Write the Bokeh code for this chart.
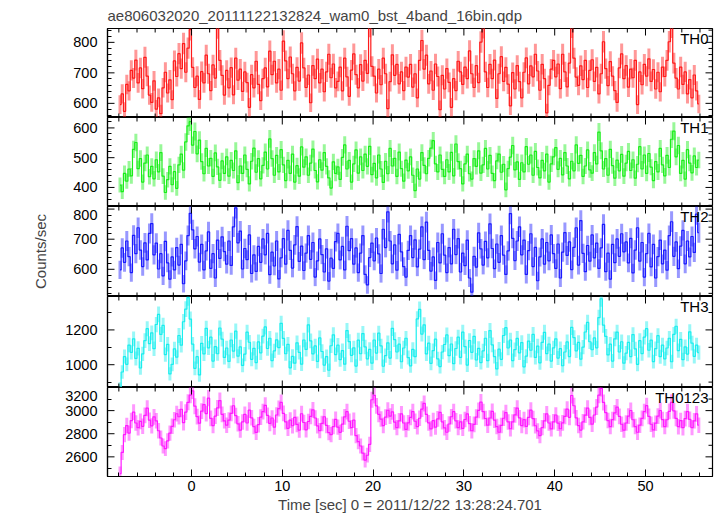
import numpy as np
from bokeh.plotting import figure
from bokeh.models import Range1d, FixedTicker, Label, ColumnDataSource
from bokeh.layouts import column
from bokeh.embed import file_html
from bokeh.resources import INLINE

title_text = "ae806032020_20111122132824_wam0_bst_4band_16bin.qdp"
x_label = "Time [sec] 0 = 2011/12/22 13:28:24.701"
y_label = "Counts/sec"
band_names = ["TH0", "TH1", "TH2", "TH3", "TH0123"]
t_first = -7.875
bin_width = 0.25

th0 = [
    596, 631, 574, 662, 641, 708, 683, 742, 667, 716, 648, 751, 689, 627, 603, 674,
    581, 618, 566, 651, 702, 634, 677, 612, 739, 688, 763, 714, 796, 702, 781, 842,
    718, 652, 689, 613, 704, 667, 758, 697, 642, 726, 683, 848, 741, 692, 627, 708,
    651, 717, 628, 748, 676, 712, 639, 703, 668, 587, 694, 651, 738, 662, 609, 681,
    716, 654, 771, 694, 738, 667, 712, 643, 804, 739, 681, 752, 697, 641, 718, 673,
    798, 716, 652, 693, 602, 724, 681, 745, 667, 712, 638, 703, 761, 684, 729, 651,
    672, 719, 641, 748, 687, 623, 709, 762, 694, 651, 727, 673, 741, 698, 853, 721,
    689, 634, 712, 661, 748, 697, 583, 671, 759, 692, 728, 664, 703, 642, 719, 686,
    728, 653, 697, 618, 741, 806, 712, 758, 664, 706, 643, 729, 688, 579, 692, 647,
    714, 669, 587, 681, 642, 738, 703, 662, 719, 681, 772, 697, 652, 724, 668, 801,
    849, 703, 652, 728, 681, 742, 616, 697, 753, 672, 718, 663, 592, 701, 647, 724,
    671, 618, 702, 749, 664, 723, 687, 761, 706, 643, 728, 681, 569, 659, 712, 741,
    687, 729, 648, 761, 703, 654, 732, 851, 748, 686, 659, 723, 678, 741, 652, 708,
    743, 672, 718, 631, 697, 802, 714, 658, 737, 689, 642, 603, 716, 762, 681, 724,
    653, 712, 684, 741, 596, 703, 661, 728, 689, 746, 672, 711, 647, 702, 638, 719,
    688, 741, 802, 851, 732, 683, 647, 719, 662, 703, 631, 678, 618, 693, 641, 598,
]
th1 = [
    408, 386, 447, 421, 462, 439, 528, 551, 463, 497, 418, 482, 509, 436, 471, 429,
    493, 452, 517, 438, 383, 426, 471, 409, 453, 397, 476, 512, 458, 553, 607, 621,
    542, 588, 513, 559, 487, 446, 531, 472, 498, 437, 516, 469, 424, 489, 447, 503,
    438, 491, 457, 523, 416, 472, 447, 509, 461, 412, 488, 532, 451, 497, 429, 474,
    519, 462, 563, 497, 441, 508, 452, 527, 476, 423, 491, 447, 512, 418, 473, 438,
    536, 468, 503, 441, 482, 529, 457, 419, 493, 458, 517, 471, 432, 398, 486, 447,
    469, 427, 501, 543, 462, 491, 418, 479, 526, 448, 503, 457, 512, 471, 538, 443,
    481, 432, 509, 462, 417, 488, 446, 531, 472, 498, 437, 519, 463, 421, 492, 456,
    503, 441, 389, 462, 428, 517, 474, 446, 498, 532, 557, 479, 452, 509, 461, 437,
    493, 452, 518, 439, 546, 487, 463, 412, 479, 512, 446, 428, 497, 471, 523, 448,
    476, 531, 462, 508, 447, 423, 489, 512, 451, 478, 392, 463, 502, 541, 459, 486,
    427, 483, 452, 537, 478, 509, 441, 521, 467, 432, 491, 456, 512, 418, 479, 503,
    534, 461, 498, 442, 517, 472, 429, 488, 456, 543, 481, 508, 437, 472, 526, 459,
    448, 517, 479, 586, 523, 462, 497, 441, 528, 473, 431, 492, 456, 511, 438, 482,
    521, 457, 493, 431, 478, 537, 462, 509, 447, 514, 468, 423, 487, 452, 531, 476,
    439, 508, 467, 562, 589, 503, 541, 447, 491, 428, 527, 482, 449, 506, 467, 492,
]
th2 = [
    598, 671, 623, 694, 642, 589, 713, 652, 738, 664, 609, 688, 631, 719, 752, 648,
    687, 601, 652, 578, 693, 621, 567, 641, 598, 672, 614, 683, 552, 628, 712, 786,
    731, 668, 709, 624, 683, 598, 661, 724, 603, 652, 571, 697, 636, 708, 659, 617,
    694, 613, 741, 804, 688, 727, 601, 669, 632, 714, 586, 648, 593, 676, 623, 701,
    648, 719, 582, 657, 611, 694, 568, 638, 702, 617, 729, 663, 604, 681, 742, 626,
    677, 596, 654, 712, 633, 689, 574, 628, 701, 649, 591, 668, 561, 637, 603, 692,
    719, 631, 676, 598, 743, 662, 702, 617, 671, 589, 654, 712, 583, 548, 639, 687,
    628, 704, 651, 586, 733, 672, 791, 694, 618, 681, 597, 716, 658, 609, 574, 663,
    712, 639, 698, 608, 667, 741, 632, 757, 663, 594, 641, 563, 689, 621, 718, 647,
    589, 672, 618, 733, 649, 702, 591, 654, 612, 697, 571, 524, 643, 607, 721, 668,
    614, 693, 638, 751, 669, 602, 684, 623, 712, 647, 583, 661, 785, 703, 629, 694,
    741, 648, 697, 583, 662, 718, 609, 673, 562, 641, 701, 617, 689, 628, 714, 652,
    603, 684, 571, 657, 722, 646, 691, 599, 673, 738, 614, 762, 653, 592, 679, 627,
    714, 638, 687, 603, 671, 749, 592, 654, 567, 683, 622, 701, 643, 718, 658, 691,
    621, 703, 588, 664, 738, 627, 689, 574, 652, 719, 608, 683, 571, 642, 697, 618,
    664, 597, 712, 758, 643, 691, 602, 677, 729, 618, 694, 641, 709, 656, 783, 722,
]
th3 = [
    862, 958, 1047, 1002, 1113, 1071, 1149, 1036, 1094, 981, 1062, 1138, 1207, 1121, 1183, 1092,
    1231, 1289, 1174, 1226, 1058, 1117, 947, 1002, 1091, 1043, 1168, 1112, 1247, 1319, 1386, 1262,
    1118, 979, 1046, 941, 1123, 1062, 1209, 1097, 1158, 1021, 1104, 1063, 1211, 1147, 1042, 1096,
    1019, 1142, 1078, 1193, 1049, 1102, 996, 1061, 1187, 1129, 1031, 1094, 1012, 1131, 1068, 1164,
    1217, 1093, 1152, 1024, 1079, 1143, 1098, 1238, 1151, 1063, 1117, 982, 1048, 1009, 1126, 1071,
    1003, 1142, 1088, 1229, 1137, 1062, 1108, 1019, 1154, 1076, 998, 1047, 968, 1109, 1172, 1058,
    1112, 1029, 1081, 1003, 1196, 1133, 1054, 1097, 992, 1141, 1063, 1179, 1102, 1034, 1088, 1009,
    1142, 1067, 1181, 1108, 991, 1052, 1126, 1038, 1209, 1144, 1073, 1118, 1017, 1096, 1152, 1041,
    993, 1088, 1046, 1263, 1318, 1176, 1229, 1062, 1124, 1008, 1081, 1147, 1034, 989, 1073, 1116,
    1171, 1052, 1119, 1006, 1093, 1158, 1042, 1187, 1104, 998, 1139, 1071, 1163, 1027, 1094, 1012,
    1079, 1152, 1023, 1196, 1114, 1047, 976, 1089, 1031, 1168, 1213, 1096, 1142, 1024, 1087, 1151,
    1068, 1127, 988, 1049, 1136, 1083, 1174, 1042, 1107, 1011, 1128, 1186, 1064, 1119, 1021, 1097,
    1149, 1038, 1092, 994, 1073, 1131, 1047, 1214, 1156, 1079, 1128, 1032, 1101, 1188, 1243, 1132,
    1086, 1154, 1097, 1271, 1379, 1227, 1163, 1056, 1118, 1021, 1149, 1187, 1073, 1132, 1009, 1066,
    1128, 1047, 1173, 1091, 1002, 1138, 1064, 1159, 1207, 1083, 1141, 1018, 1092, 1167, 1046, 1113,
    1034, 1096, 1152, 1017, 1174, 1221, 1081, 1146, 1029, 1103, 1061, 1189, 1124, 1048, 1113, 1069,
]
th0123 = [
    2455, 2638, 2792, 2871, 2806, 2914, 2987, 2893, 2852, 2907, 2864, 2958, 3021, 2917, 2868, 2946,
    2912, 2826, 2763, 2694, 2671, 2738, 2806, 2864, 2921, 2973, 2947, 3012, 2896, 2987, 3072, 3134,
    3171, 3038, 2948, 2891, 2996, 3052, 2974, 3108, 2933, 2871, 2952, 3023, 3087, 2968, 2912, 2874,
    2918, 2977, 3042, 2957, 2886, 2831, 2902, 2968, 2893, 3004, 2938, 2862, 2811, 2878, 2943, 2991,
    3046, 2958, 2889, 2936, 2857, 2962, 3018, 3071, 2976, 2903, 2847, 2918, 2869, 2941, 2881, 2832,
    2973, 2897, 2834, 2906, 2951, 3007, 2936, 2868, 2827, 2889, 2947, 2872, 2809, 2792, 2862, 2924,
    2857, 2812, 2883, 2946, 2991, 2908, 2852, 2917, 2784, 2731, 2694, 2633, 2572, 2614, 2708, 3094,
    3132, 3041, 2968, 2927, 2871, 2944, 3003, 2952, 2989, 2901, 2853, 2912, 2971, 2893, 2837, 2894,
    2941, 2992, 2908, 2861, 2934, 3013, 3062, 2967, 2894, 2842, 2913, 2857, 2928, 2984, 2903, 2851,
    2813, 2884, 2947, 2991, 2912, 2853, 2902, 2846, 2923, 2971, 2887, 2826, 2881, 2944, 3002, 3074,
    2991, 2932, 2874, 2936, 2993, 2917, 2862, 2813, 2872, 2934, 2983, 2902, 2843, 2902, 2963, 3021,
    2938, 2871, 2922, 2863, 2942, 3004, 2931, 2869, 2824, 2783, 2853, 2912, 2971, 2893, 2842, 2903,
    2962, 2891, 2843, 2894, 2951, 3013, 2942, 3131, 3042, 2938, 2871, 2832, 2903, 2961, 3022, 2941,
    2883, 2962, 3031, 3134, 3192, 3071, 2983, 2914, 2862, 2922, 2981, 3031, 2951, 2882, 2831, 2893,
    2952, 3001, 2921, 2862, 2813, 2874, 2933, 2992, 3043, 2951, 2882, 2833, 2891, 2952, 3001, 2922,
    2862, 2921, 2993, 3072, 2998, 2933, 2861, 2914, 2852, 2931, 2992, 2924, 2853, 2912, 2972, 2874,
]
series = [th0, th1, th2, th3, th0123]

# axis ranges and ticks for each panel
y_ranges = [(553.6, 845.4), (336.0, 635.0), (509.6, 808.6), (869.0, 1392.0), (2430.0, 3200.0)]
y_tick_labels = [[600, 700, 800], [400, 500, 600], [600, 700], [1000, 1200], [2600, 2800, 3000]]
y_edge_labels = [[], [], [800], [], [3200]]
y_major_step = [100, 100, 100, 200, 200]
y_minor_step = [20, 20, 20, 100, 100]
x_major_step = 10
x_minor_step = 2

# styling / layout configuration
colors = ["#ff1a1a", "#1aee1a", "#1a1aff", "#1aeeee", "#ff1aff"]
FONT = "Liberation Sans"
W = 717
LEFT = 107
RIGHT = 5
TOP = 27
BOTTOM = 40
PANEL_H = [90, 89, 90, 91, 89]
TICK_MAJ = 7
TICK_MIN = 4
EDGE_LABEL_PX = 8.0   # edge labels are moved this far inside the panel

x_range = Range1d(-9.25, 57.38)
t = t_first + bin_width * np.arange(len(th0))


def grid_ticks(start, end, step):
    k0 = int(np.ceil(start / step - 1e-9))
    k1 = int(np.floor(end / step + 1e-9))
    return [k * step for k in range(k0, k1 + 1)]


x_major = grid_ticks(x_range.start, x_range.end, x_major_step)
x_minor = [v for v in grid_ticks(x_range.start, x_range.end, x_minor_step) if v % x_major_step != 0]


def style_axis(ax):
    ax.axis_line_color = "black"
    ax.axis_line_width = 1.2
    ax.major_tick_in = TICK_MAJ
    ax.major_tick_out = 0
    ax.minor_tick_in = TICK_MIN
    ax.minor_tick_out = 0
    ax.major_tick_line_color = "black"
    ax.minor_tick_line_color = "black"
    ax.major_label_text_font = FONT
    ax.major_label_text_font_size = "14.5px"
    ax.major_label_text_color = "black"


def frame_ticks(p, xs, ys, angle, length):
    p.ray(x=xs, y=ys, length=length, angle=angle, angle_units="deg",
          length_units="screen", line_color="black", line_width=1)


figs = []
n = len(series)
for i, (vals, name, col) in enumerate(zip(series, band_names, colors)):
    first = i == 0
    last = i == n - 1
    ph = PANEL_H[i]
    h = ph + (TOP if first else 0) + (BOTTOM if last else 0)
    lo, hi = y_ranges[i]
    p = figure(width=W, height=h, x_range=x_range, y_range=Range1d(lo, hi),
               output_backend="svg", toolbar_location=None,
               min_border_left=LEFT, min_border_right=RIGHT,
               min_border_top=(TOP if first else 0), min_border_bottom=(BOTTOM if last else 0),
               title=(title_text if first else None))
    p.grid.visible = False
    p.outline_line_color = "black"
    p.outline_line_width = 1.2
    p.background_fill_color = "white"
    p.border_fill_color = "white"
    if first:
        p.title.text_font = FONT
        p.title.text_font_size = "15px"
        p.title.text_font_style = "normal"
        p.title.align = "left"
        p.title.offset = 0
        p.title.standoff = 9

    v = np.array(vals, dtype=float)
    err = 1.25 * np.sqrt(v)
    src = ColumnDataSource(dict(t=t, v=v, lo=v - err, hi=v + err))
    p.segment(x0="t", y0="lo", x1="t", y1="hi", source=src,
              line_color=col, line_alpha=0.45, line_width=3)
    p.step(x="t", y="v", source=src, mode="center", line_color=col, line_width=1.2)

    # x axis: labelled only on the bottom panel, frame ticks elsewhere
    if last:
        xa = p.xaxis[0]
        xa.ticker = FixedTicker(ticks=x_major, minor_ticks=x_minor)
        style_axis(xa)
        xa.major_label_standoff = 4
        xa.axis_label = x_label
        xa.axis_label_text_font = FONT
        xa.axis_label_text_font_size = "15px"
        xa.axis_label_text_font_style = "normal"
        xa.axis_label_standoff = 2
    else:
        p.xaxis.visible = False
        frame_ticks(p, x_major, [lo] * len(x_major), 90, TICK_MAJ)
        frame_ticks(p, x_minor, [lo] * len(x_minor), 90, TICK_MIN)
    frame_ticks(p, x_major, [hi] * len(x_major), -90, TICK_MAJ)
    frame_ticks(p, x_minor, [hi] * len(x_minor), -90, TICK_MIN)

    # y axis on the left: labels from the axis, major tick marks drawn at true values
    units_per_px = (hi - lo) / ph
    y_major_all = grid_ticks(lo, hi, y_major_step[i])
    y_minor_all = [u for u in grid_ticks(lo, hi, y_minor_step[i]) if u not in y_major_all]
    label_pos = list(y_tick_labels[i])
    overrides = {}
    for ev in y_edge_labels[i]:
        pos = round(min(ev, hi - EDGE_LABEL_PX * units_per_px), 1)
        label_pos.append(pos)
        overrides[pos] = str(ev)
    ya = p.yaxis[0]
    ya.ticker = FixedTicker(ticks=label_pos, minor_ticks=y_minor_all)
    style_axis(ya)
    ya.major_tick_in = 0
    ya.major_label_standoff = 10
    if overrides:
        ya.major_label_overrides = overrides
    if i == 2:
        ya.axis_label = y_label
        ya.axis_label_text_font = FONT
        ya.axis_label_text_font_size = "15px"
        ya.axis_label_text_font_style = "normal"
        ya.axis_label_standoff = 21
    frame_ticks(p, [x_range.start] * len(y_major_all), y_major_all, 0, TICK_MAJ)
    # right frame ticks
    frame_ticks(p, [x_range.end] * len(y_major_all), y_major_all, 180, TICK_MAJ)
    frame_ticks(p, [x_range.end] * len(y_minor_all), y_minor_all, 180, TICK_MIN)

    p.add_layout(Label(x=x_range.end, y=hi - 1.5 * units_per_px, text=name, text_align="right",
                       text_baseline="top", x_offset=-4, text_font=FONT,
                       text_font_size="15px", text_color="black"))
    figs.append(p)

layout = column(*figs, spacing=0)
open("out.html", "w").write(file_html(layout, INLINE))
